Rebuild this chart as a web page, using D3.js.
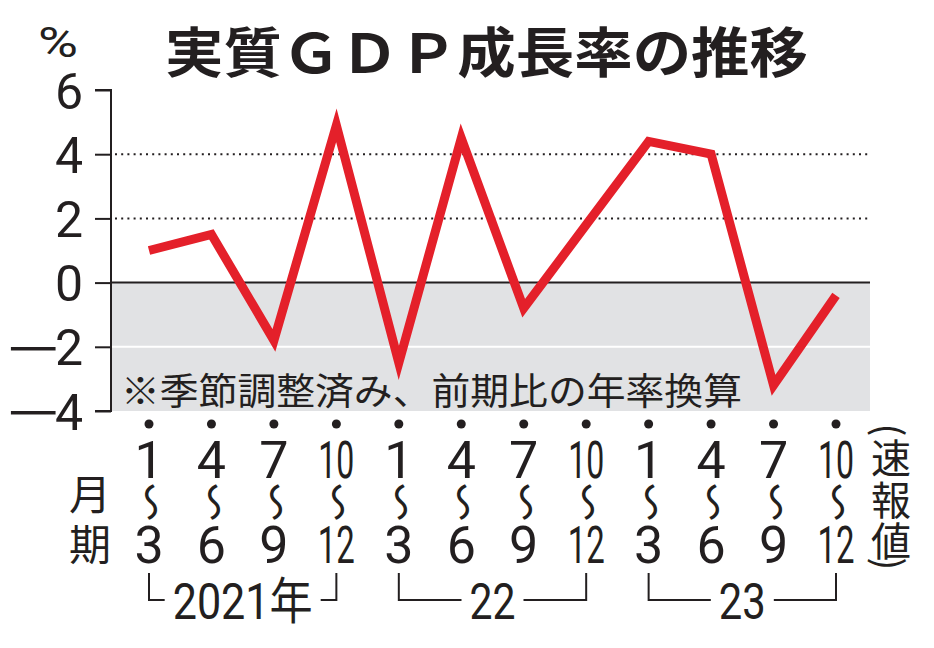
<!DOCTYPE html>
<html>
<head>
<meta charset="utf-8">
<script src="https://cdn.jsdelivr.net/npm/d3@7"></script>
<style>
  body { margin: 0; background: #fff; }
  svg { display: block; }
</style>
</head>
<body>
<div id="chart"></div>
<script>
// Data
const quarterStart = ["1", "4", "7", "10", "1", "4", "7", "10", "1", "4", "7", "10"];
const quarterEnd = ["3", "6", "9", "12", "3", "6", "9", "12", "3", "6", "9", "12"];
const growth = [1.0, 1.5, -1.8, 4.9, -2.5, 4.5, -0.8, 1.8, 4.4, 4.0, -3.2, -0.4];
const yearLabels = ["2021年", "22", "23"];
const yTicks = [6, 4, 2, 0, -2, -4];

const W = 934, H = 648;
const ink = "#231f20";
const numFont = "Roboto, 'Liberation Sans', sans-serif";
const jpFont = "'Noto Sans CJK JP', 'Noto Sans', sans-serif";

const svg = d3.select("#chart")
    .append("svg")
    .attr("width", W)
    .attr("height", H);

svg.append("rect").attr("width", W).attr("height", H).attr("fill", "#fff");

// Scales
const x = d3.scalePoint()
    .domain(d3.range(growth.length))
    .range([149, 836]);

const y = d3.scaleLinear()
    .domain([-4, 6])
    .range([411, 90]);

const plotLeft = 111, plotRight = 870;

// negative band
svg.append("rect")
    .attr("x", plotLeft)
    .attr("y", y(0))
    .attr("width", plotRight - plotLeft)
    .attr("height", y(-4) - y(0))
    .attr("fill", "#e1e2e4");

svg.append("line")
    .attr("x1", plotLeft).attr("x2", plotRight)
    .attr("y1", y(-2)).attr("y2", y(-2))
    .attr("stroke", "#fff")
    .attr("stroke-width", 2);

// dotted grid
svg.selectAll(".grid")
    .data([2, 4])
    .enter()
    .append("line")
    .attr("class", "grid")
    .attr("x1", plotLeft + 4).attr("x2", plotRight)
    .attr("y1", d => y(d)).attr("y2", d => y(d))
    .attr("stroke", ink)
    .attr("stroke-width", 2)
    .attr("stroke-dasharray", "2,4.2");

// zero line
svg.append("line")
    .attr("x1", plotLeft).attr("x2", plotRight)
    .attr("y1", y(0)).attr("y2", y(0))
    .attr("stroke", ink)
    .attr("stroke-width", 2);

// y axis
const yAxis = svg.append("g")
    .attr("transform", `translate(${plotLeft},0)`)
    .call(d3.axisLeft(y).tickValues(yTicks).tickSize(16).tickPadding(12)
        .tickFormat(d => Math.abs(d)));

yAxis.select(".domain")
    .attr("d", `M-16,${y(6)}H0V${y(-4)}H-16`)
    .attr("stroke", ink)
    .attr("stroke-width", 2)
    .attr("fill", "none");
yAxis.selectAll(".tick line").attr("stroke", ink).attr("stroke-width", 2);
yAxis.selectAll(".tick text")
    .attr("fill", ink)
    .attr("dy", "0.36em")
    .style("font-family", numFont)
    .style("font-size", "50px");

// long minus signs in front of the negative labels
yAxis.selectAll(".tick")
    .filter(d => d < 0)
    .append("text")
    .attr("transform", "translate(-78,0) scale(1.7,1)")
    .attr("dy", "0.34em")
    .attr("text-anchor", "middle")
    .attr("fill", ink)
    .style("font-family", "'DejaVu Sans', sans-serif")
    .style("font-size", "42px")
    .text("\u2212");

svg.append("text")
    .attr("x", 38).attr("y", 57)
    .attr("fill", ink)
    .attr("textLength", 40)
    .attr("lengthAdjust", "spacingAndGlyphs")
    .style("font-family", numFont)
    .style("font-size", "42px")
    .text("%");

// title
svg.append("text")
    .attr("x", 165).attr("y", 73)
    .attr("fill", ink)
    .attr("textLength", 643)
    .attr("lengthAdjust", "spacingAndGlyphs")
    .style("font-family", jpFont)
    .style("font-weight", "bold")
    .style("font-size", "54px")
    .text("実質ＧＤＰ成長率の推移");

// note
svg.append("text")
    .attr("x", 121).attr("y", 405)
    .attr("fill", ink)
    .attr("textLength", 621)
    .attr("lengthAdjust", "spacingAndGlyphs")
    .style("font-family", jpFont)
    .style("font-size", "37px")
    .text("※季節調整済み、前期比の年率換算");

// growth line
const line = d3.line()
    .x((d, i) => x(i))
    .y(d => y(d));

svg.append("path")
    .datum(growth)
    .attr("d", line)
    .attr("fill", "none")
    .attr("stroke", "#e4202a")
    .attr("stroke-width", 9)
    .attr("stroke-linejoin", "miter")
    .attr("stroke-linecap", "butt");

// x labels
const xl = svg.selectAll(".xlab")
    .data(quarterStart)
    .enter()
    .append("g")
    .attr("class", "xlab")
    .attr("transform", (d, i) => `translate(${x(i)},0)`);

xl.append("circle")
    .attr("cy", 424)
    .attr("r", 4.5)
    .attr("fill", ink);

xl.append("text")
    .attr("y", 478)
    .attr("text-anchor", "middle")
    .attr("fill", ink)
    .attr("textLength", d => d.length > 1 ? 36 : null)
    .attr("lengthAdjust", "spacingAndGlyphs")
    .style("font-family", numFont)
    .style("font-size", "52px")
    .text(d => d);

xl.append("text")
    .attr("transform", "translate(0,502) scale(-1,1) rotate(90) scale(1.5,1.6)")
    .attr("text-anchor", "middle")
    .attr("dominant-baseline", "central")
    .attr("fill", ink)
    .style("font-family", jpFont)
    .style("font-size", "26px")
    .text("〜");

xl.append("text")
    .attr("y", 563)
    .attr("text-anchor", "middle")
    .attr("fill", ink)
    .attr("textLength", (d, i) => quarterEnd[i].length > 1 ? 37 : null)
    .attr("lengthAdjust", "spacingAndGlyphs")
    .style("font-family", numFont)
    .style("font-size", "52px")
    .text((d, i) => quarterEnd[i]);

// 月 / 期
svg.selectAll(".mlab")
    .data(["月", "期"])
    .enter()
    .append("text")
    .attr("x", 90)
    .attr("y", (d, i) => 510 + i * 50)
    .attr("text-anchor", "middle")
    .attr("fill", ink)
    .style("font-family", jpFont)
    .style("font-size", "42px")
    .text(d => d);

// (速報値)
const vert = ["(", "速", "報", "値", ")"];
svg.selectAll(".vlab")
    .data(vert)
    .enter()
    .append("text")
    .attr("transform", (d, i) => {
        if (i === 0) return "translate(891,430) rotate(90)";
        if (i === 4) return "translate(891,564) rotate(90)";
        return `translate(891,${456 + (i - 1) * 41.5})`;
    })
    .attr("text-anchor", "middle")
    .attr("dominant-baseline", "central")
    .attr("fill", ink)
    .style("font-family", jpFont)
    .style("font-size", (d, i) => (i === 0 || i === 4) ? "38px" : "40px")
    .text(d => d);

// year brackets
const yearWidths = [140, 46, 47];
yearLabels.forEach((lab, k) => {
    const x0 = x(k * 4), x1 = x(k * 4 + 3);
    const cx = (x0 + x1) / 2;
    const gap = yearWidths[k] / 2 + 8;
    const yb = 600;
    svg.append("path")
        .attr("d", `M${x0},573V${yb}H${cx - gap}M${cx + gap},${yb}H${x1}V573`)
        .attr("fill", "none")
        .attr("stroke", ink)
        .attr("stroke-width", 2);
    svg.append("text")
        .attr("x", cx)
        .attr("y", 619)
        .attr("text-anchor", "middle")
        .attr("fill", ink)
        .attr("textLength", yearWidths[k])
        .attr("lengthAdjust", "spacingAndGlyphs")
        .style("font-family", k === 0 ? `${numFont}, ${jpFont}` : numFont)
        .style("font-size", "50px")
        .text(lab);
});
</script>
</body>
</html>
